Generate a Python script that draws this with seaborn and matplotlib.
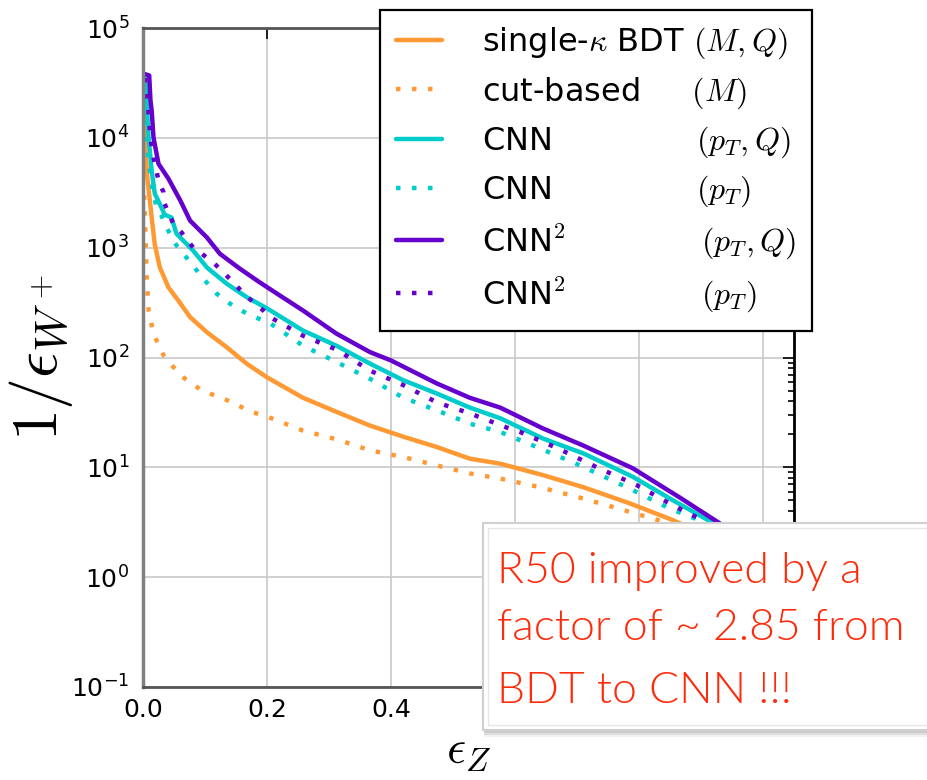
import matplotlib
matplotlib.use("Agg")
import numpy as np
import pandas as pd
import matplotlib.pyplot as plt
import seaborn as sns
from matplotlib.patches import Rectangle
from matplotlib.ticker import FixedLocator, FixedFormatter, LogLocator, NullFormatter

# ---------------- data ----------------
bdt_x = [0.002, 0.004, 0.007, 0.014, 0.019, 0.027, 0.041, 0.057, 0.076, 0.103, 0.135,
         0.167, 0.2, 0.258, 0.312, 0.366, 0.42, 0.474, 0.527, 0.576, 0.645, 0.71,
         0.785, 0.855, 0.93, 1.0]
bdt_y = [20000, 8000, 4350, 1880, 1070, 665, 435, 330, 233, 170, 124,
         88, 66, 43, 32, 24, 19, 15.3, 12, 10.8, 8.5, 6.6,
         4.7, 3.3, 2.1, 1.0]

cut_x = [0.002, 0.004, 0.006, 0.009, 0.017, 0.033, 0.06, 0.095, 0.135, 0.175, 0.2,
         0.258, 0.312, 0.366, 0.42, 0.474, 0.527, 0.576, 0.64, 0.71, 0.774, 0.839,
         0.92, 1.0]
cut_y = [3000, 1340, 535, 268, 164, 105, 69, 50, 41, 32, 29,
         21.6, 18, 14.3, 12.4, 10.4, 8.8, 7.9, 6.6, 5.2, 4.1, 3.2,
         2.2, 1.0]

cnn_ptq_x = [0.003, 0.006, 0.009, 0.014, 0.019, 0.027, 0.035, 0.046, 0.054, 0.081, 0.103,
             0.135, 0.167, 0.2, 0.258, 0.312, 0.366, 0.42, 0.474, 0.527, 0.576, 0.645,
             0.71, 0.79, 0.855, 0.92, 1.0]
cnn_ptq_y = [38000, 20000, 10000, 5000, 3100, 2500, 2000, 1880, 1340, 940, 660,
             470, 355, 280, 176, 128, 88, 62, 47, 35, 28, 18.3,
             13.4, 8.2, 5.0, 3.1, 1.0]

cnn_pt_x = [0.003, 0.008, 0.015, 0.022, 0.03, 0.038, 0.054, 0.076, 0.097, 0.119, 0.148,
            0.175, 0.205, 0.258, 0.312, 0.366, 0.42, 0.474, 0.527, 0.576, 0.64, 0.705,
            0.785, 0.85, 0.91, 1.0]
cnn_pt_y = [20000, 7000, 3500, 2300, 1950, 1520, 1050, 740, 525, 380, 287,
            240, 205, 128, 91, 64, 43, 33, 25, 21, 14.9, 10.4,
            6.4, 4.2, 3.1, 1.0]

cnn2_ptq_x = [0.003, 0.010, 0.012, 0.014, 0.017, 0.025, 0.041, 0.06, 0.076, 0.103, 0.124,
              0.156, 0.189, 0.221, 0.258, 0.312, 0.366, 0.40, 0.474, 0.527, 0.576, 0.645,
              0.71, 0.79, 0.866, 0.93, 1.0]
cnn2_ptq_y = [38000, 37000, 22000, 17700, 10000, 5800, 4250, 2700, 1760, 1240, 880,
              645, 480, 366, 268, 165, 112, 94, 58, 43, 35, 22.6,
              15.8, 9.8, 5.3, 3.1, 1.0]

cnn2_pt_x = [0.003, 0.008, 0.012, 0.017, 0.025, 0.033, 0.035, 0.049, 0.062, 0.081, 0.095,
             0.116, 0.14, 0.167, 0.194, 0.205, 0.258, 0.312, 0.366, 0.42, 0.474, 0.527,
             0.587, 0.608, 0.67, 0.732, 0.796, 0.855, 0.898, 1.0]
cnn2_pt_y = [35000, 20000, 10000, 6600, 4100, 3200, 2500, 1640, 1380, 1000, 880,
             710, 520, 360, 268, 233, 158, 118, 76, 56, 39, 31,
             23, 21, 14.8, 10, 6.9, 4.5, 3.4, 1.0]

method_names = [r"single-$\kappa$ BDT", "cut-based", "CNN", "CNN", "CNN$^2$", "CNN$^2$"]
input_vars = [r"$(M,Q)$", r"$(M)$", r"$(p_T,Q)$", r"$(p_T)$", r"$(p_T,Q)$", r"$(p_T)$"]

x_ticks = [0.0, 0.2, 0.4, 0.6, 0.8, 1.0]
# 0.6, 0.8 and 1.0 are hidden behind the note box in the reference
x_tick_labels = ["0.0", "0.2", "0.4", "", "", ""]
y_ticks = [1e-1, 1e0, 1e1, 1e2, 1e3, 1e4, 1e5]
y_tick_labels = [r"$\mathregular{10^{-1}}$", r"$\mathregular{10^{0}}$", r"$\mathregular{10^{1}}$",
                 r"$\mathregular{10^{2}}$", r"$\mathregular{10^{3}}$", r"$\mathregular{10^{4}}$",
                 r"$\mathregular{10^{5}}$"]

note_lines = ["R50 improved by a", "factor of ~ 2.85 from", "BDT to CNN !!!"]

# ---------------- style ----------------
sns.set_style("white")
plt.rcParams['font.family'] = ['DejaVu Sans']
plt.rcParams['mathtext.fontset'] = 'cm'
for k in ["text.color", "axes.labelcolor", "xtick.color", "ytick.color"]:
    plt.rcParams[k] = "black"

ORANGE = "#ff9933"
CYAN = "#00cccc"
PURPLE = "#6600cc"
DOT = (0, (1, 2.6))

xs_all = [bdt_x, cut_x, cnn_ptq_x, cnn_pt_x, cnn2_ptq_x, cnn2_pt_x]
ys_all = [bdt_y, cut_y, cnn_ptq_y, cnn_pt_y, cnn2_ptq_y, cnn2_pt_y]
colors = [ORANGE, ORANGE, CYAN, CYAN, PURPLE, PURPLE]
styles = ["-", DOT, "-", DOT, "-", DOT]
# gap (in mathtext em) between name and input variables inside legend labels
gaps = [None, 1.82, 5.14, 5.14, 4.8, 4.8]

fig = plt.figure(figsize=(9.27, 7.8), dpi=100)
ax = fig.add_axes([143 / 927, 1 - 687 / 780, (794 - 143) / 927, (687 - 28) / 780])

handles = []
labels = []
for name, var, gap, xs, ys, c, ls in zip(method_names, input_vars, gaps, xs_all, ys_all, colors, styles):
    df = pd.DataFrame({"eps_Z": xs, "inv_eps_W": ys})
    sns.lineplot(data=df, x="eps_Z", y="inv_eps_W", ax=ax, color=c, linestyle=ls,
                 linewidth=3.2, estimator=None, sort=False, legend=False)
    handles.append(ax.lines[-1])
    if gap is None:
        labels.append(name + " " + var)
    else:
        var_body = var.strip("$")
        if name.endswith("$"):
            labels.append(name[:-1] + r"\hspace{%.2f}" % gap + var_body + "$")
        else:
            labels.append(name + r"$\hspace{%.2f}" % gap + var_body + "$")

ax.set_yscale("log")
ax.set_xlim(0, 1.05)
ax.set_ylim(1e-1, 1e5)

ax.xaxis.set_major_locator(FixedLocator(x_ticks))
ax.xaxis.set_major_formatter(FixedFormatter(x_tick_labels))
ax.yaxis.set_major_locator(FixedLocator(y_ticks))
ax.yaxis.set_major_formatter(FixedFormatter(y_tick_labels))
ax.yaxis.set_minor_locator(LogLocator(base=10, subs=np.arange(2, 10)))
ax.yaxis.set_minor_formatter(NullFormatter())

ax.grid(True, which="major", color="#c8c8c8", linewidth=1.2)
ax.tick_params(axis="both", which="both", direction="in", top=True, right=True,
               color="black", width=1.2)
ax.tick_params(axis="both", which="major", length=8, labelsize=18)
ax.tick_params(axis="both", which="minor", length=4)
ax.tick_params(axis="y", which="major", pad=10)
ax.tick_params(axis="x", which="major", pad=8)

for side, col, lw in [("left", "#808080", 2.5), ("bottom", "#555555", 2.0),
                      ("top", "#555555", 2.0), ("right", "black", 2.0)]:
    ax.spines[side].set_color(col)
    ax.spines[side].set_linewidth(lw)
    ax.spines[side].set_visible(True)

ax.set_xlabel(r"$\epsilon_Z$", fontsize=34, va="center")
ax.set_ylabel(r"$1/\epsilon_{W^+}$", fontsize=46)
ax.xaxis.set_label_coords(0.5, (687 - 752) / 659)
ax.yaxis.set_label_coords(-0.105, 0.5)

leg = ax.legend(handles, labels, loc="upper left",
                bbox_to_anchor=(380 / 927, 1 - 10 / 780), bbox_transform=fig.transFigure,
                borderaxespad=0, fontsize=23, frameon=True, fancybox=False,
                framealpha=1, edgecolor="black", handlelength=1.44, handletextpad=1.25,
                borderpad=0.5, labelspacing=0.43)
leg.get_frame().set_linewidth(1.6)

# ---------------- annotation box ----------------
bx0, bx1, by_top, by_bot = 483, 940, 523, 730
for i, a in enumerate([0.10, 0.14, 0.18]):
    off = 7 - 2 * i
    fig.add_artist(Rectangle(((bx0 + 1) / 927, 1 - (by_bot + off) / 780),
                             (bx1 - bx0) / 927, (by_bot - by_top) / 780,
                             transform=fig.transFigure, facecolor="#777777",
                             edgecolor="none", alpha=a, zorder=9))
fig.add_artist(Rectangle((bx0 / 927, 1 - by_bot / 780), (bx1 - bx0) / 927,
                         (by_bot - by_top) / 780, transform=fig.transFigure,
                         facecolor="white", edgecolor="#d0d0d0", linewidth=1.5, zorder=10))
fig.add_artist(Rectangle(((bx0 + 5) / 927, 1 - (by_bot - 5) / 780), (bx1 - bx0) / 927,
                         (by_bot - by_top - 10) / 780, transform=fig.transFigure,
                         facecolor="white", edgecolor="#e6e6e6", linewidth=1.0, zorder=10))
for txt, base in zip(note_lines, [583, 640, 703]):
    fig.text(497 / 927, 1 - base / 780, txt, color="#ff2a0a", fontsize=32,
             family="Lato", fontweight=300, va="baseline", ha="left", zorder=11)

fig.savefig("out.png", dpi=100)
